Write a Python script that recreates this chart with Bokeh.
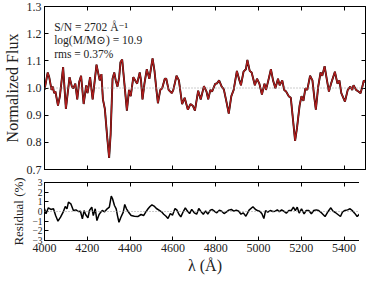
from bokeh.plotting import figure
from bokeh.layouts import column
from bokeh.models import (LinearAxis, FixedTicker, CustomJSTickFormatter, Span,
                          Label, Range1d)
from bokeh.embed import file_html
from bokeh.resources import INLINE

# ---------------- data ----------------
wl_flux = [4000, 4015, 4022, 4033, 4039, 4045, 4051, 4063, 4072, 4087, 4100, 4117,
           4128, 4135, 4144, 4153, 4162, 4171, 4183, 4195, 4201, 4213, 4225, 4243,
           4252, 4258, 4266, 4273, 4282, 4293, 4302, 4309, 4318, 4326, 4333, 4341,
           4349, 4355, 4363, 4372, 4385, 4395, 4403, 4415, 4424, 4433, 4445, 4451,
           4458, 4467, 4478, 4490, 4505, 4514, 4523, 4530, 4541, 4550, 4562, 4569,
           4580, 4595, 4602, 4617, 4628, 4643, 4655, 4670, 4682, 4693, 4703, 4718,
           4730, 4745, 4757, 4765, 4775, 4783, 4798, 4805, 4816, 4828, 4838, 4851,
           4861, 4873, 4884, 4899, 4911, 4918, 4930, 4941, 4948, 4959, 4968, 4983,
           4993, 5004, 5016, 5028, 5035, 5046, 5058, 5068, 5079, 5091, 5099, 5111,
           5120, 5129, 5141, 5151, 5162, 5171, 5180, 5192, 5201, 5210, 5219, 5228,
           5241, 5252, 5261, 5268, 5279, 5290, 5298, 5309, 5320, 5329, 5339, 5357,
           5369, 5378, 5387, 5404, 5417, 5429, 5438, 5444, 5456, 5467, 5477, 5486,
           5492, 5500]
flux = [0.993, 1.057, 1.040, 0.993, 1.005, 0.981, 0.987, 0.935, 0.970, 1.077, 0.923, 1.040,
        1.005, 0.999, 1.016, 0.958, 1.022, 1.045, 0.941, 1.010, 0.981, 1.040, 0.958, 1.086,
        1.051, 1.028, 1.051, 0.958, 0.923, 0.819, 0.743, 0.830, 1.034, 1.057, 1.028, 1.005,
        1.040, 1.095, 1.105, 1.028, 0.917, 0.993, 0.970, 1.040, 1.028, 1.016, 1.057, 1.028,
        0.958, 1.016, 1.069, 1.034, 1.109, 1.063, 0.993, 0.944, 0.993, 0.999, 1.034, 1.034,
        0.993, 0.981, 0.993, 1.045, 1.028, 0.941, 0.964, 0.920, 0.941, 0.935, 0.917, 0.990,
        0.958, 1.007, 0.987, 0.958, 0.993, 0.987, 1.016, 1.016, 1.028, 1.005, 0.995, 0.946,
        0.906, 0.970, 0.993, 1.063, 1.028, 1.010, 1.060, 1.069, 1.103, 1.063, 1.057, 1.010,
        1.034, 1.016, 0.976, 1.016, 0.993, 1.028, 1.069, 1.028, 0.999, 1.034, 1.010, 1.028,
        0.993, 0.987, 0.970, 0.964, 0.877, 0.805, 0.853, 0.935, 0.970, 0.953, 0.999, 0.993,
        1.045, 1.028, 0.964, 0.920, 1.005, 1.057, 1.045, 1.080, 1.028, 0.987, 1.016, 1.060,
        1.016, 1.028, 0.981, 0.950, 0.993, 1.005, 0.993, 1.010, 0.993, 0.987, 0.981, 1.007,
        1.028, 1.022]

wl_res = [4000, 4007, 4018, 4030, 4042, 4052, 4063, 4075, 4087, 4097, 4105, 4112,
          4123, 4135, 4147, 4158, 4168, 4177, 4185, 4192, 4203, 4210, 4221, 4228,
          4237, 4245, 4255, 4263, 4270, 4281, 4293, 4303, 4312, 4318, 4327, 4335,
          4341, 4348, 4357, 4368, 4375, 4383, 4393, 4405, 4420, 4436, 4451, 4463,
          4473, 4484, 4493, 4502, 4512, 4523, 4535, 4547, 4557, 4568, 4577, 4588,
          4598, 4610, 4619, 4628, 4637, 4648, 4658, 4667, 4678, 4688, 4700, 4711,
          4721, 4730, 4742, 4753, 4763, 4775, 4784, 4798, 4805, 4817, 4828, 4839,
          4851, 4861, 4873, 4884, 4896, 4908, 4918, 4929, 4941, 4956, 4974, 4986,
          4998, 5007, 5016, 5025, 5033, 5043, 5055, 5067, 5078, 5088, 5097, 5108,
          5118, 5130, 5142, 5153, 5163, 5172, 5181, 5190, 5201, 5213, 5223, 5235,
          5247, 5258, 5270, 5281, 5296, 5311, 5326, 5338, 5348, 5359, 5371, 5383,
          5393, 5404, 5416, 5428, 5438, 5449, 5461, 5473, 5483, 5491, 5500]
res = [0.28, -0.24, 0.38, 0.21, 0.28, -0.42, -1.00, -0.59, -0.07, 0.52, 0.28, 0.97,
       0.80, 0.10, 0.17, 0.00, 0.03, -0.76, 0.10, -0.31, -0.66, 0.10, 0.45, -0.42,
       0.28, -0.94, -0.31, -0.07, 0.10, -0.03, 0.28, 0.45, 1.60, 1.32, 0.62, 0.28,
       -0.42, -1.11, -0.59, -0.07, 0.73, 0.28, -0.07, -0.42, -0.49, -0.52, -0.31, -0.42,
       -0.07, 0.28, 0.52, 0.69, 0.56, 0.31, 0.14, -0.03, -0.28, -0.49, -0.73, -0.21,
       -0.38, 0.31, 0.14, -0.28, -0.56, -0.03, 0.38, 0.07, -0.21, 0.21, -0.14, -0.28,
       0.31, 0.03, -0.28, 0.07, -0.28, 0.14, 0.21, -0.03, -0.14, 0.14, 0.03, -0.21,
       -0.03, 0.14, 0.21, 0.03, 0.14, 0.03, -0.28, -0.14, -0.49, 0.14, 0.49, 0.21,
       0.07, 0.00, -0.24, -0.73, 0.10, -0.07, 0.10, 0.00, 0.03, 0.17, -0.03, 0.17,
       0.03, -0.17, 0.10, 0.10, 0.45, 0.10, 0.45, -0.17, 0.28, -0.24, 0.10, 0.10,
       -0.24, 0.10, 0.17, 0.10, -0.17, -0.52, 0.03, 0.38, 0.03, -0.10, -0.31, -0.52,
       -0.03, 0.10, 0.17, 0.28, 0.10, -0.17, -0.52, -0.24, 0.10, 0.38, 0.38]

x_ticks = [4000, 4200, 4400, 4600, 4800, 5000, 5200, 5400]
flux_ticks = [0.7, 0.8, 0.9, 1.0, 1.1, 1.2, 1.3]
res_ticks = [-3, -2, -1, 0, 1, 2, 3]
notes = ["S/N = 2702 Å\u207b\u00b9", "log(M/M\u2299) = 10.9", "rms = 0.37%"]
note_y = [1.225, 1.178, 1.125]

FONT = "'Liberation Serif', 'DejaVu Serif', serif"
TXT = "#222222"
RED = "#ad1c1c"

BLANK = CustomJSTickFormatter(code="return '';")


def style_axis(ax, show_labels=True, size="12px"):
    ax.axis_line_color = "black"
    ax.axis_line_width = 1
    ax.major_tick_in = 4
    ax.major_tick_out = 0
    ax.major_tick_line_color = "black"
    ax.minor_tick_line_color = None
    ax.major_label_text_font = FONT
    ax.major_label_text_color = TXT
    ax.axis_label_text_font = FONT
    ax.axis_label_text_color = TXT
    ax.axis_label_text_font_style = "normal"
    ax.major_label_text_font_size = size
    if show_labels:
        ax.major_label_standoff = 3
    else:
        ax.formatter = BLANK
        ax.major_label_standoff = 0


xr = Range1d(4000, 5500)

top = figure(frame_width=321, frame_height=163, x_range=xr, y_range=Range1d(0.7, 1.3),
             output_backend="svg", toolbar_location=None,
             min_border_left=35, min_border_right=2, min_border_top=6, min_border_bottom=7)
top.grid.visible = False
top.outline_line_color = "black"
top.xaxis.ticker = FixedTicker(ticks=x_ticks)
top.yaxis.ticker = FixedTicker(ticks=flux_ticks)
top.yaxis.formatter = CustomJSTickFormatter(code="return tick.toFixed(1);")
style_axis(top.xaxis[0], show_labels=False)
style_axis(top.yaxis[0], size="12px")
top.yaxis.axis_label = "Normalized Flux"
top.yaxis.axis_label_text_font_size = "16px"
top.yaxis.axis_label_standoff = 3
ax_r = LinearAxis(ticker=FixedTicker(ticks=flux_ticks))
style_axis(ax_r, show_labels=False)
top.add_layout(ax_r, "right")
ax_t = LinearAxis(ticker=FixedTicker(ticks=x_ticks))
style_axis(ax_t, show_labels=False)
top.add_layout(ax_t, "above")

top.add_layout(Span(location=1.0, dimension="width", line_color="#999999",
                    line_dash="1 2", line_width=1))
top.line(wl_flux, flux, line_color="black", line_width=1.9)
top.line(wl_flux, flux, line_color=RED, line_width=1.4)

for t, yy in zip(notes, note_y):
    top.add_layout(Label(x=4045, y=yy, text=t, text_font=FONT,
                         text_font_size="11.5px", text_color=TXT, text_baseline="middle"))

bot = figure(frame_width=321, frame_height=58, x_range=xr, y_range=Range1d(-3, 3),
             output_backend="svg", toolbar_location=None,
             min_border_left=35, min_border_right=2, min_border_top=6, min_border_bottom=2)
bot.grid.visible = False
bot.outline_line_color = "black"
bot.xaxis.ticker = FixedTicker(ticks=x_ticks)
bot.yaxis.ticker = FixedTicker(ticks=res_ticks)
bot.yaxis.formatter = CustomJSTickFormatter(
    code="return (tick < 0 ? '\u2212' : '') + Math.abs(tick).toFixed(0);")
style_axis(bot.xaxis[0], size="12px")
style_axis(bot.yaxis[0], size="9.5px")
bot.yaxis.major_label_standoff = 2
bot.xaxis.axis_label = "\u03bb (Å)"
bot.xaxis.axis_label_text_font_size = "16px"
bot.xaxis.axis_label_standoff = 2
bot.yaxis.axis_label = "Residual (%)"
bot.yaxis.axis_label_text_font_size = "13px"
bot.yaxis.axis_label_standoff = 3
ax_r2 = LinearAxis(ticker=FixedTicker(ticks=res_ticks))
style_axis(ax_r2, show_labels=False)
bot.add_layout(ax_r2, "right")
ax_t2 = LinearAxis(ticker=FixedTicker(ticks=x_ticks))
style_axis(ax_t2, show_labels=False)
bot.add_layout(ax_t2, "above")

bot.add_layout(Span(location=0.0, dimension="width", line_color="#999999",
                    line_dash="1 2", line_width=1))
bot.line(wl_res, res, line_color="black", line_width=1.5)

layout = column(top, bot, spacing=0)
open("out.html", "w").write(file_html(layout, INLINE))
